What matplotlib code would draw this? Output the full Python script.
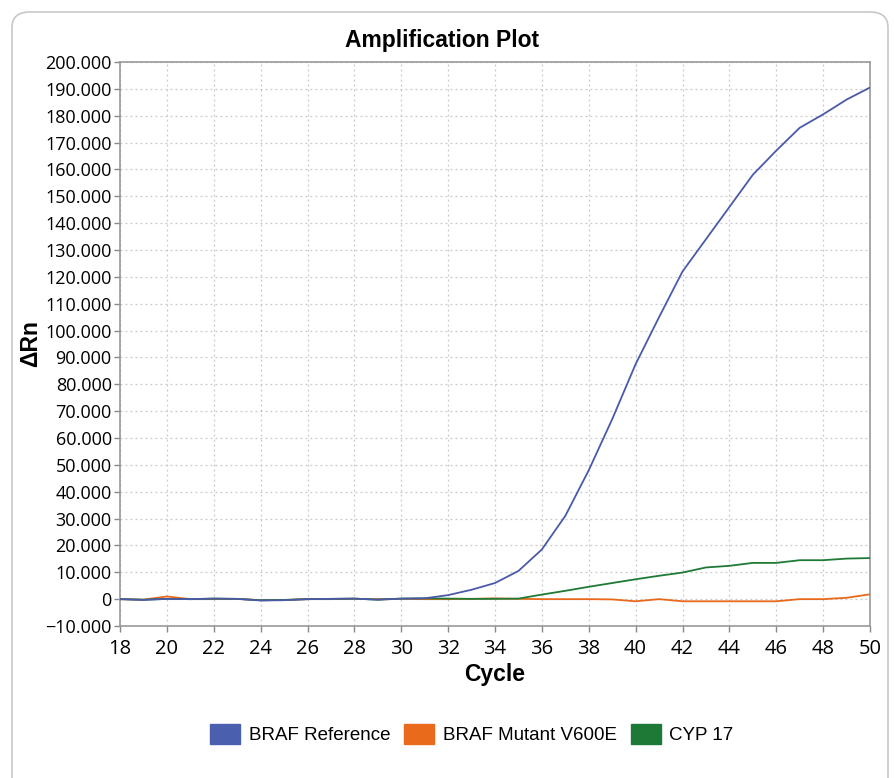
import matplotlib
matplotlib.use("Agg")
import matplotlib.pyplot as plt
from matplotlib.patches import FancyBboxPatch, Patch
from matplotlib.ticker import FuncFormatter, MultipleLocator

plt.rcParams['font.family'] = ['Liberation Sans', 'DejaVu Sans']

cycles = list(range(18, 51))

braf_ref = [0, -300, 100, 0, 200, 100, -500, -400, 0, 100, 200, -200, 200, 300,
            1500, 3500, 6000, 10500, 18500, 31000, 48000, 67000, 87500, 105000,
            122000, 134000, 146000, 158000, 167000, 175500, 180500, 186000, 190500]
braf_mut = [0, -200, 1000, 0, 0, 100, -400, -300, 0, 0, 100, 0, 100, 0,
            0, 100, 300, 100, 0, 0, 0, -100, -800, 0, -800, -800, -800, -800,
            -800, 0, 0, 500, 1800]
cyp17 = [0, -200, 100, 0, 200, 100, -400, -300, 0, 100, 200, -200, 200, 300,
         200, 100, 100, 200, 1700, 3100, 4600, 6000, 7400, 8700, 9900, 11800,
         12400, 13500, 13500, 14500, 14500, 15100, 15300]

labels = ['BRAF Reference', 'BRAF Mutant V600E', 'CYP 17']
colors = ['#4b5aa8', '#e8691b', '#1f7a36']
legend_colors = ['#4a5fae', '#ea6a1c', '#1c7a36']

fig = plt.figure(figsize=(8.94, 7.78), dpi=100)

# rounded frame around the whole chart
frame = FancyBboxPatch((12 / 894, -0.05), 876 / 894, 1.05 - 12 / 778,
                       boxstyle="round,pad=0,rounding_size=0.02",
                       transform=fig.transFigure, facecolor='none',
                       edgecolor='#c8c8c8', lw=1.2, zorder=10)
fig.patches.append(frame)

ax = fig.add_axes([120 / 894, 1 - 626 / 778, 750 / 894, 564 / 778])
ax.set_facecolor('white')

series = [braf_ref, braf_mut, cyp17]
order = [1, 2, 0]
for i in order:
    ax.plot(cycles, series[i], color=colors[i], lw=1.3, zorder=3)

ax.set_xlim(18, 50)
ax.set_ylim(-10000, 200000)
ax.xaxis.set_major_locator(MultipleLocator(2))
ax.yaxis.set_major_locator(MultipleLocator(10000))


def fmt(v, pos):
    s = format(int(round(v)), ',').replace(',', '.')
    return s.replace('-', '\u2212')


ax.yaxis.set_major_formatter(FuncFormatter(fmt))
ax.tick_params(length=4, width=1, color='#888888')
ax.tick_params(axis='y', labelsize=13, pad=2)
ax.tick_params(axis='x', labelsize=14.5, pad=5)
for lab in ax.get_xticklabels() + ax.get_yticklabels():
    lab.set_family(['Open Sans', 'DejaVu Sans'])
ax.grid(True, color='#c8c8c8', linestyle=(0, (1.5, 2.5)), lw=0.9)
for sp in ax.spines.values():
    sp.set_color('#999999')
    sp.set_linewidth(1.2)

fig.text(442 / 894, 1 - 40 / 778, 'Amplification Plot', fontsize=16.5,
         fontweight='bold', ha='center', va='center')
ax.set_xlabel('Cycle', fontsize=16.5, fontweight='bold', labelpad=3)
ax.set_ylabel('\u0394Rn', fontsize=16.5, fontweight='bold', labelpad=2)

handles = [Patch(facecolor=c, edgecolor=c) for c in legend_colors]
fig.legend(handles, labels, loc='center', bbox_to_anchor=(472 / 894, 1 - 734 / 778),
           ncol=3, frameon=False, fontsize=13.5, handlelength=1.6, handleheight=1.3,
           handletextpad=0.45, columnspacing=0.75)

fig.savefig('out.png', dpi=100)
